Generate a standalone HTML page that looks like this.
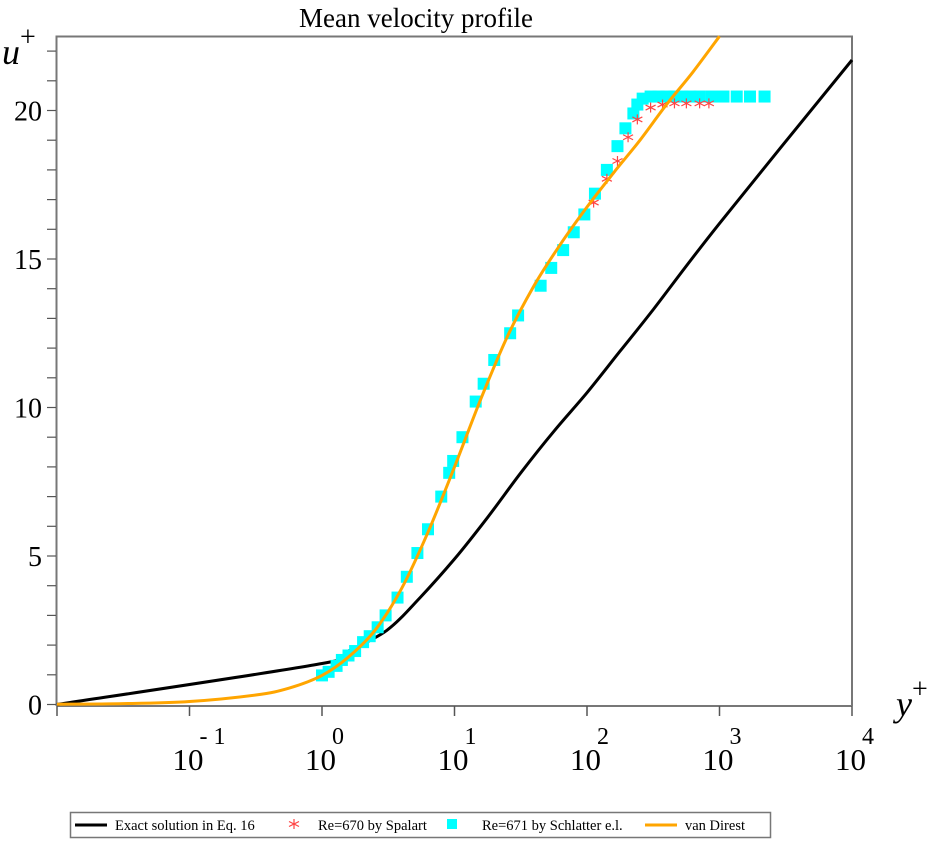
<!DOCTYPE html>
<html><head><meta charset="utf-8"><style>
body{margin:0;background:#fff;}
svg{display:block;font-family:"Liberation Serif",serif;}
</style></head><body>
<svg id="chart" width="942" height="845">
<text x="416" y="27" font-size="27" text-anchor="middle">Mean velocity profile</text>
<g id="frame"></g>
<g id="ticks"></g>
<g id="series"></g>
<text x="2" y="64" font-size="36" font-style="italic">u<tspan font-style="normal" font-size="28" dy="-18">+</tspan></text>
<text x="896" y="716" font-size="36" font-style="italic">y<tspan font-style="normal" font-size="28" dy="-18">+</tspan></text>
<g>
<rect x="70.5" y="812.5" width="700" height="25" fill="#fff" stroke="#777" stroke-width="1.5"/>
<line x1="75" y1="825" x2="107" y2="825" stroke="#000" stroke-width="3"/>
<text x="115" y="830" font-size="14.5">Exact solution in Eq. 16</text>
<g stroke="#f44" stroke-width="1.2"><line x1="294" y1="819" x2="294" y2="829"/><line x1="289" y1="821.5" x2="299" y2="826.5"/><line x1="289" y1="826.5" x2="299" y2="821.5"/></g>
<text x="318" y="830" font-size="14.5">Re=670 by Spalart</text>
<rect x="447" y="819" width="10" height="10" fill="#00ffff"/>
<text x="482" y="830" font-size="14.5">Re=671 by Schlatter e.l.</text>
<line x1="645" y1="825" x2="677" y2="825" stroke="#ffa500" stroke-width="3"/>
<text x="685" y="830" font-size="14.5">van Direst</text>
</g>
</svg>
<script>
const exactLogX=[-2,0,0.2,0.49,0.74,1.0,1.25,1.5,1.75,2.0,2.25,2.5,3.0,4.0];
const exactU=[0,1.38,1.8,2.5,3.6,4.9,6.3,7.8,9.2,10.5,11.9,13.3,16.2,21.7];
const vdLogX=[-2,-1.5,-1,-0.5,-0.25,0,0.2,0.4,0.6,0.8,1.0,1.2,1.4,1.6,1.8,2.0,2.2,2.4,2.6,2.8,3.0];
const vdU=[0.01,0.03,0.1,0.32,0.55,0.98,1.6,2.5,3.9,5.8,8.0,10.3,12.4,14.1,15.5,16.75,17.9,19.0,20.2,21.3,22.5];
const schLogX=[0.0,0.05,0.11,0.15,0.2,0.25,0.31,0.36,0.42,0.48,0.57,0.64,0.72,0.8,0.9,0.96,0.99,1.06,1.16,1.22,1.30,1.42,1.48,1.65,1.73,1.82,1.90,1.98,2.06,2.15,2.23,2.29,2.35,2.38,2.42,2.48,2.54,2.6,2.66,2.72,2.78,2.85,2.94,3.03,3.13,3.23,3.34];
const schU=[0.98,1.1,1.3,1.5,1.65,1.8,2.1,2.3,2.6,3.0,3.6,4.3,5.1,5.9,7.0,7.8,8.2,9.0,10.2,10.8,11.6,12.5,13.1,14.1,14.7,15.3,15.9,16.5,17.2,18.0,18.8,19.4,19.9,20.2,20.4,20.47,20.47,20.47,20.47,20.47,20.47,20.47,20.47,20.47,20.47,20.47,20.47];
const spaLogX=[2.05,2.15,2.23,2.31,2.38,2.48,2.57,2.66,2.75,2.85,2.92];
const spaU=[16.9,17.7,18.3,19.1,19.7,20.1,20.2,20.24,20.24,20.24,20.24];
const xTickExp=[-2,-1,0,1,2,3,4];
const xTickLabels=["","- 1","0","1","2","3","4"];
const yTickVals=[0,5,10,15,20];
const NS="http://www.w3.org/2000/svg";
const X=l=>57+(l+2)*132.5;
const Y=u=>704.5-u*29.7;
function mk(t,a,p){const e=document.createElementNS(NS,t);for(const k in a)e.setAttribute(k,a[k]);p.appendChild(e);return e;}
const frame=document.getElementById('frame'),ticks=document.getElementById('ticks'),ser=document.getElementById('series');
const fr=mk('path',{d:'M56.5,706V36.5H852V706M56.5,706H852',fill:'none',stroke:'#777','stroke-width':2},frame);


xTickExp.forEach((e,i)=>{
  const x=X(e);
  const t=mk('line',{x1:x,y1:706,x2:x,y2:716,stroke:'#555','stroke-width':1.5},ticks);
  
  
  if(i>0){
    const tx=mk('text',{x:x+14,y:770,'font-size':31,'text-anchor':'end'},ticks);
    tx.textContent='10';
    
    
    const sp=mk('text',{x:x+10,y:744,'font-size':24},ticks);
    sp.textContent=xTickLabels[i];
    
    
  }
});
for(let u=0;u<=22;u++){
  const y=Y(u);
  const t=mk('line',{x1:47,y1:y,x2:56,y2:y,stroke:'#555','stroke-width':1.2},ticks);
  
  
}
yTickVals.forEach(v=>{
  const tx=mk('text',{x:42,y:Y(v)+10,'font-size':28,'text-anchor':'end'},ticks);
  tx.textContent=String(v);
  
  
});
function line(lx,uy,col,name){
  const P=lx.map((l,i)=>[X(l),Y(uy[i])]);
  let d='M'+P[0][0].toFixed(1)+','+P[0][1].toFixed(1);
  for(let i=0;i<P.length-1;i++){
    const p0=P[i-1]||P[i],p1=P[i],p2=P[i+1],p3=P[i+2]||P[i+1];
    const c1=[p1[0]+(p2[0]-p0[0])/6,p1[1]+(p2[1]-p0[1])/6];
    const c2=[p2[0]-(p3[0]-p1[0])/6,p2[1]-(p3[1]-p1[1])/6];
    d+='C'+c1.map(v=>v.toFixed(1)).join(',')+' '+c2.map(v=>v.toFixed(1)).join(',')+' '+p2.map(v=>v.toFixed(1)).join(',');
  }
  const p=mk('path',{d:d,fill:'none',stroke:col,'stroke-width':3,'stroke-linejoin':'round'},ser);
  
  
}
line(exactLogX,exactU,'#000','exact-solution-line');
schLogX.forEach((l,i)=>{
  const r=mk('rect',{x:X(l)-6,y:Y(schU[i])-6,width:12,height:12,fill:'#00ffff'},ser);
  
  
});
spaLogX.forEach((l,i)=>{
  const x=X(l),y=Y(spaU[i]);
  const g=mk('g',{stroke:'#f44','stroke-width':1.2},ser);
  
  
  mk('line',{x1:x,y1:y-5,x2:x,y2:y+5},g);
  mk('line',{x1:x-5,y1:y-2.5,x2:x+5,y2:y+2.5},g);
  mk('line',{x1:x-5,y1:y+2.5,x2:x+5,y2:y-2.5},g);
});
line(vdLogX,vdU,'#ffa500','van-driest-line');
</script>
</body></html>
